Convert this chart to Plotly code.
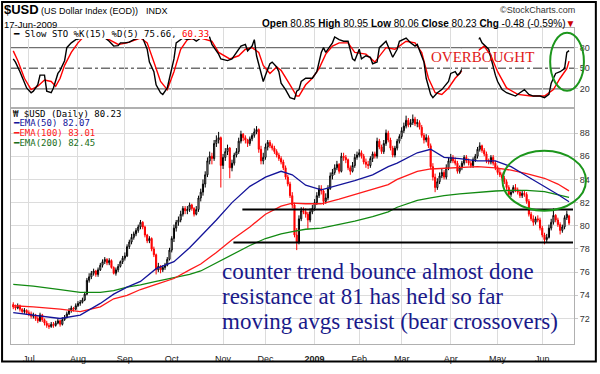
import plotly.graph_objects as go
import pandas as pd

# ---------------- data ----------------
holidays = ["2008-07-04", "2008-09-01", "2008-11-27", "2008-12-25", "2009-01-01",
            "2009-01-19", "2009-02-16", "2009-04-10", "2009-05-25"]
dates = [d for d in pd.bdate_range("2008-06-20", "2009-06-17") if d.strftime("%Y-%m-%d") not in holidays]

closes = [73.0, 72.9, 73.1, 72.8, 72.6, 72.7, 72.5,
          72.4, 72.2, 72.3, 72.0, 71.8, 72.3, 71.9, 71.6, 71.4, 71.3, 71.5, 71.4, 71.6, 71.8, 71.5, 71.9, 72.1, 72.4, 72.7, 72.9, 72.8, 73.1,
          73.3, 73.4, 73.6, 74.1, 75.3, 75.6, 75.9, 76.1, 75.8, 76.2, 76.6, 76.9, 77.1, 76.8, 77.0, 76.4, 75.9, 76.2, 76.5, 76.9, 77.2,
          77.4, 78.2, 78.6, 79.0, 79.3, 79.6, 79.9, 80.3, 79.9, 79.2, 78.7, 78.9, 78.0, 77.5, 76.2, 76.5, 76.2, 76.4, 76.6, 77.1, 77.9,
          78.9, 79.8, 80.3, 80.5, 81.0, 81.5, 81.3, 81.4, 81.8, 81.5, 81.0, 81.4, 82.4, 82.9, 83.6, 84.4, 85.6, 86.0, 85.8, 87.1, 87.4, 87.6, 85.2,
          85.9, 86.4, 86.7, 85.0, 85.4, 86.1, 86.4, 87.3, 87.9, 87.6, 87.4, 87.1, 87.5, 87.8, 88.1, 88.3, 86.6, 85.6, 85.9,
          86.8, 87.2, 86.9, 86.7, 86.4, 86.1, 85.8, 85.5, 85.0, 84.2, 83.6, 82.6, 81.8, 79.2, 78.6, 80.6, 81.3, 81.2, 81.0, 80.5, 81.2, 81.5,
          82.0, 82.6, 83.2, 83.0, 82.1, 82.4, 83.2, 84.3, 84.6, 85.0, 85.3, 84.7, 86.0, 85.9, 85.7, 85.0, 84.7, 85.2, 85.9, 86.1,
          86.3, 86.0, 85.5, 85.3, 85.2, 85.8, 86.2, 86.0, 87.3, 86.8, 86.4, 87.1, 88.0, 87.4, 86.7, 86.1, 86.7, 87.3, 87.7,
          88.2, 88.6, 89.1, 88.7, 88.9, 89.2, 88.8, 88.9, 88.5, 87.8, 87.4, 87.6, 86.9, 85.1, 84.2, 83.3, 83.8, 84.3, 84.6, 84.2, 85.0, 85.6,
          85.9, 85.6, 85.4, 84.7, 85.0, 85.4, 85.9, 85.6, 85.4, 85.2, 85.7, 86.0, 86.6, 86.9, 86.5, 86.2, 85.6, 85.5, 85.9, 85.4, 85.0,
          84.6, 84.4, 84.1, 83.8, 83.3, 82.7, 82.9, 83.3, 83.1, 82.9, 82.6, 82.8, 82.7, 82.1, 81.0, 80.6, 80.3, 80.6, 80.5, 79.8,
          79.2, 78.8, 79.0, 79.8, 80.3, 80.9, 80.5, 80.1, 79.6, 79.9, 80.7, 81.0, 80.23]

opens = [73.2, 73.0, 72.9, 73.1, 72.8, 72.6, 72.7,
         72.5, 72.4, 72.2, 72.3, 72.0, 71.8, 72.3, 71.9, 71.6, 71.4, 71.3, 71.5, 71.4, 71.6, 71.8, 71.5, 71.9, 72.1, 72.4, 72.7, 72.9, 72.8,
         73.1, 73.3, 73.4, 73.6, 74.1, 75.3, 75.6, 75.9, 76.1, 75.8, 76.2, 76.6, 76.9, 77.1, 76.8, 77.0, 76.4, 75.9, 76.2, 76.5, 76.9,
         77.2, 77.4, 78.2, 78.6, 79.0, 79.3, 79.6, 79.9, 80.3, 79.9, 79.2, 78.7, 78.9, 78.0, 77.5, 76.2, 76.5, 76.2, 76.4, 76.6, 77.1,
         77.9, 78.9, 79.8, 80.3, 80.5, 81.0, 81.5, 81.3, 81.4, 81.8, 81.5, 81.0, 81.4, 82.4, 82.9, 83.6, 84.4, 85.6, 86.0, 85.8, 87.1, 87.4, 87.6,
         85.2, 85.9, 86.4, 86.7, 85.0, 85.4, 86.1, 86.4, 87.3, 87.9, 87.6, 87.4, 87.1, 87.5, 87.8, 88.1, 88.3, 86.6, 85.6,
         85.9, 86.8, 87.2, 86.9, 86.7, 86.4, 86.1, 85.8, 85.5, 85.0, 84.2, 83.6, 82.6, 81.8, 79.2, 78.6, 80.6, 81.3, 81.2, 81.0, 80.5, 81.2,
         81.5, 82.0, 82.6, 83.2, 83.0, 82.1, 82.4, 83.2, 84.3, 84.6, 85.0, 85.3, 84.7, 86.0, 85.9, 85.7, 85.0, 84.7, 85.2, 85.9,
         86.1, 86.3, 86.0, 85.5, 85.3, 85.2, 85.8, 86.2, 86.0, 87.3, 86.8, 86.4, 87.1, 88.0, 87.4, 86.7, 86.1, 86.7, 87.3,
         87.7, 88.2, 88.6, 89.1, 88.7, 88.9, 89.2, 88.8, 88.9, 88.5, 87.8, 87.4, 87.6, 86.9, 85.1, 84.2, 83.3, 83.8, 84.3, 84.6, 84.2, 85.0,
         85.6, 85.9, 85.6, 85.4, 84.7, 85.0, 85.4, 85.9, 85.6, 85.4, 85.2, 85.7, 86.0, 86.6, 86.9, 86.5, 86.2, 85.6, 85.5, 85.9, 85.4,
         85.0, 84.6, 84.4, 84.1, 83.8, 83.3, 82.7, 82.9, 83.3, 83.1, 82.9, 82.6, 82.8, 82.7, 82.1, 81.0, 80.6, 80.3, 80.6, 80.5,
         79.8, 79.2, 78.8, 79.0, 79.8, 80.3, 80.9, 80.5, 80.1, 79.6, 79.9, 80.7, 80.85]

highs = [73.4, 73.2, 73.3, 73.2, 72.9, 72.9, 72.8,
         72.7, 72.6, 72.5, 72.4, 72.2, 72.5, 72.4, 72.0, 71.8, 71.6, 71.7, 71.7, 71.8, 72.0, 71.9, 72.1, 72.3, 72.6, 72.9, 73.1, 73.0, 73.3,
         73.5, 73.6, 73.8, 74.3, 75.5, 75.9, 76.1, 76.3, 76.2, 76.4, 76.8, 77.1, 77.3, 77.2, 77.2, 77.1, 76.5, 76.4, 76.7, 77.0, 77.4,
         77.7, 78.4, 78.8, 79.3, 79.5, 79.8, 80.1, 80.5, 80.4, 80.0, 79.3, 79.1, 79.0, 78.2, 77.6, 76.8, 76.6, 76.6, 76.8, 77.3, 78.1,
         79.1, 80.1, 80.5, 80.8, 81.3, 81.7, 81.7, 81.7, 82.0, 81.9, 81.6, 81.7, 82.6, 83.2, 84.0, 84.7, 85.9, 86.4, 86.3, 87.4, 87.8, 88.1, 87.7,
         86.2, 86.7, 87.0, 86.8, 85.7, 86.3, 86.7, 87.6, 88.2, 88.0, 87.8, 87.5, 87.7, 88.0, 88.4, 88.6, 88.4, 86.9, 86.3,
         87.1, 87.4, 87.4, 87.1, 86.9, 86.6, 86.3, 86.0, 85.7, 85.2, 84.4, 83.8, 82.9, 82.0, 79.8, 80.9, 81.6, 81.6, 81.5, 81.2, 81.5, 81.8,
         82.3, 82.9, 83.5, 83.5, 83.1, 82.8, 83.5, 84.6, 84.9, 85.3, 85.6, 85.4, 86.3, 86.3, 86.1, 85.8, 85.2, 85.5, 86.2, 86.4,
         86.6, 86.5, 86.2, 85.8, 85.6, 86.0, 86.4, 86.4, 87.6, 87.5, 87.0, 87.4, 88.3, 88.2, 87.6, 86.9, 86.9, 87.5, 87.9,
         88.5, 88.9, 89.5, 89.3, 89.2, 89.6, 89.4, 89.2, 89.1, 88.7, 88.0, 87.9, 87.8, 87.1, 85.4, 84.5, 84.1, 84.6, 84.9, 84.8, 85.3, 85.9,
         86.2, 86.1, 85.9, 85.6, 85.2, 85.6, 86.1, 86.1, 85.8, 85.6, 85.9, 86.2, 86.8, 87.2, 87.0, 86.7, 86.4, 85.8, 86.1, 86.1, 85.6,
         85.2, 84.9, 84.6, 84.3, 84.0, 83.5, 83.1, 83.5, 83.6, 83.3, 83.1, 83.0, 83.0, 82.9, 82.3, 81.2, 80.9, 80.8, 80.9, 80.7,
         80.0, 79.4, 79.3, 80.1, 80.6, 81.5, 81.0, 80.7, 80.3, 80.1, 80.9, 81.3, 80.95]

lows = [72.8, 72.7, 72.8, 72.6, 72.4, 72.4, 72.3,
        72.2, 72.0, 72.0, 71.8, 71.6, 71.7, 71.7, 71.4, 71.2, 71.1, 71.2, 71.2, 71.3, 71.5, 71.3, 71.4, 71.8, 72.0, 72.3, 72.5, 72.6, 72.7,
        73.0, 73.1, 73.3, 73.5, 74.0, 75.1, 75.4, 75.7, 75.6, 75.6, 76.1, 76.4, 76.7, 76.6, 76.6, 76.3, 75.8, 75.7, 76.0, 76.4, 76.7,
        77.0, 77.3, 78.0, 78.4, 78.8, 79.1, 79.4, 79.7, 79.7, 79.0, 78.5, 78.5, 77.8, 77.3, 75.8, 76.0, 75.9, 76.0, 76.2, 76.5, 77.0,
        77.7, 78.6, 79.5, 80.0, 80.3, 80.8, 81.0, 81.0, 81.2, 81.3, 80.8, 80.9, 81.2, 82.1, 82.6, 83.3, 84.2, 85.3, 85.3, 85.6, 86.8, 87.1, 83.3,
        84.9, 85.6, 86.1, 84.1, 84.7, 85.2, 85.9, 86.2, 87.1, 87.3, 87.1, 86.8, 86.9, 87.3, 87.6, 87.9, 86.3, 85.3, 85.3,
        85.7, 86.5, 86.7, 86.5, 86.2, 85.9, 85.6, 85.3, 84.8, 84.0, 83.4, 82.4, 81.5, 79.0, 77.9, 78.4, 80.4, 81.0, 80.7, 79.7, 80.3, 81.0,
        81.3, 81.8, 82.4, 82.7, 81.8, 81.9, 82.2, 83.1, 84.0, 84.4, 84.8, 84.5, 84.6, 85.6, 85.4, 84.8, 84.4, 84.6, 85.0, 85.7,
        85.9, 85.8, 85.3, 85.0, 84.9, 85.0, 85.5, 85.8, 85.8, 86.6, 86.2, 86.2, 86.9, 87.2, 86.5, 85.9, 85.9, 86.5, 87.1,
        87.5, 88.0, 88.4, 88.5, 88.5, 88.7, 88.6, 88.5, 88.3, 87.6, 87.1, 87.2, 86.7, 84.9, 83.9, 82.9, 83.1, 83.6, 84.1, 84.0, 84.0, 84.8,
        85.4, 85.4, 85.2, 84.5, 84.5, 84.8, 85.2, 85.4, 85.2, 85.0, 85.0, 85.5, 85.8, 86.4, 86.3, 86.0, 85.4, 85.3, 85.3, 85.2, 84.8,
        84.4, 84.2, 83.9, 83.6, 83.1, 82.5, 82.5, 82.8, 82.9, 82.7, 82.4, 82.4, 82.5, 81.9, 80.8, 80.4, 80.0, 80.1, 80.3, 79.6,
        79.0, 78.4, 78.6, 78.9, 79.6, 80.1, 80.3, 79.9, 79.25, 79.4, 79.7, 80.5, 80.06]

# moving averages, read at selected bars (bar index)
ema_idx = [0, 9, 21, 30, 39, 45, 51, 57, 64, 72, 79, 84, 91, 98, 106, 113, 120, 125, 131, 138, 146, 153,
           161, 168, 172, 181, 187, 193, 200, 208, 216, 223, 230, 238, 244, 249]
ema50 = [72.5, 72.3, 72.0, 72.3, 73.3, 74.1, 74.7, 75.2, 76.3, 76.9, 78.1, 79.1, 80.5, 82.0, 83.4, 84.2, 84.7, 84.4,
         83.5, 83.1, 83.5, 83.9, 84.4, 85.1, 85.4, 86.3, 86.6, 85.9, 85.8, 85.6, 85.6, 85.1, 84.3, 83.4, 82.7, 82.07]
ema100 = [73.1, 73.0, 72.8, 72.6, 73.0, 73.7, 74.0, 74.5, 74.95, 75.45, 76.2, 76.7, 77.7, 78.8, 79.9, 81.0, 81.7, 81.95,
          81.9, 81.9, 82.3, 82.7, 83.1, 83.55, 84.0, 84.7, 84.9, 84.95, 85.0, 85.1, 85.0, 84.8, 84.5, 84.1, 83.6, 83.01]
ema200 = [74.95, 74.8, 74.5, 74.25, 74.25, 74.4, 74.7, 74.9, 75.2, 75.5, 75.8, 76.1, 76.8, 77.5, 78.3, 78.9, 79.3, 79.5,
          79.7, 79.8, 80.1, 80.4, 80.8, 81.2, 81.6, 82.2, 82.4, 82.6, 82.75, 82.9, 83.0, 83.05, 83.05, 82.95, 82.7, 82.45]

# slow stochastic, read at selected bars
k_idx = [0, 1, 3, 6, 8, 9, 11, 12, 14, 15, 17, 18, 20, 21, 23, 24, 26, 28, 31, 34, 37, 40, 43, 45, 47, 48, 50, 52,
         54, 57, 58, 60, 61, 63, 64, 66, 67, 69, 70, 72, 73, 76, 78, 80, 82, 84, 87, 88, 89, 92, 93, 96, 98, 100,
         102, 104, 105, 107, 108, 109, 111, 112, 113, 115, 116, 118, 119, 120, 122, 124, 126, 127, 128, 129, 131,
         134, 136, 138, 139, 140, 143, 144, 146, 148, 150, 152, 153, 155, 156, 158, 160, 161, 163, 164, 167, 168,
         170, 172, 173, 176, 178, 180, 181, 184, 185, 187, 188, 190, 192, 195, 196, 198, 199, 200, 202, 204, 206,
         208, 209, 210, 213, 214, 216, 217, 219, 221, 225, 227, 229, 231, 233, 236, 238, 240, 241, 243, 245, 247,
         248, 249]
k_vals = [63.6, 59, 45, 21.4, 14.4, 16.7, 26, 40, 40, 16.7, 14.4, 21.4, 42.5, 47, 61, 80, 87, 91.7, 94, 97, 98, 97,
          89.3, 82.3, 83, 87, 87, 88, 91.7, 94.8, 94, 77.7, 59, 45, 26, 14.4, 12, 21.4, 35.5, 63.6, 87, 94, 91.7,
          94, 89.3, 94, 96.4, 95, 84.7, 70.6, 63.6, 61.2, 63.6, 73, 82.3, 84.7, 75.4, 82.3, 91.7, 68.2, 44.9, 30.8,
          40, 56.6, 59, 52, 45, 28.4, 19, 7.3, 5, 16.7, 19, 30.8, 35.5, 35.5, 45, 73, 80, 73, 87, 95.5, 91.7, 89.3,
          89.3, 63.6, 61.2, 77.7, 63.6, 68.2, 66, 56.6, 59, 80, 89.3, 82.3, 66, 77.7, 89.3, 94, 87, 82.3, 84.7, 59,
          35.5, 12, 7.3, 14.4, 19, 30.8, 42.5, 45, 40, 42.5, 55, 70, 82, 92, 94, 87, 77.7, 63.6, 40, 30.8, 19, 14.4,
          9.6, 14.4, 19, 12, 9.6, 9.6, 7.3, 12, 28.4, 42.5, 45, 49.5, 73, 75.66]
d_idx = [0, 2, 5, 8, 11, 14, 17, 19, 21, 23, 26, 29, 31, 35, 39, 43, 47, 51, 57, 60, 63, 66, 69, 72, 75, 78, 84,
         89, 92, 97, 101, 104, 107, 110, 112, 115, 118, 120, 124, 127, 128, 131, 134, 137, 140, 143, 146, 150,
         153, 158, 162, 167, 171, 176, 180, 183, 186, 189, 192, 195, 198, 200, 203, 206, 211, 214, 217, 221, 226,
         232, 238, 242, 245, 248, 249]
d_vals = [75.3, 61.2, 35.5, 19, 23.8, 33, 30.8, 23.8, 35.5, 54.2, 73, 87, 94, 96, 96, 91.7, 84.7, 87, 94, 87, 59,
          30.8, 19, 45, 77.7, 91.7, 94, 89.3, 73, 63.6, 68.2, 77.7, 80, 73, 54.2, 42.5, 52, 47, 26, 9.6, 9.6, 26,
          35.5, 49.5, 70.6, 82.3, 87, 87, 73, 70.6, 59, 80, 77.7, 89.3, 87, 73, 35.5, 14.4, 12, 21.4, 35.5, 42.5,
          55, 70, 82.3, 68.2, 45, 21.4, 12, 9.6, 9.6, 19, 35.5, 49.5, 60.33]

month_lbl = ["Jul", "Aug", "Sep", "Oct", "Nov", "Dec", "<b>2009</b>", "Feb", "Mar", "Apr", "May", "Jun"]
price_ticks = [72, 74, 76, 78, 80, 82, 84, 86, 88]
sto_ticks = [20, 50, 80]
resistance = 81.4
support = 78.55

# ---------------- layout helpers ----------------
x = list(range(len(dates)))
month_idx = [i for i in range(len(dates)) if i > 0 and dates[i].month != dates[i - 1].month]

L, R, T, B = 10, 577, 28, 355


def px(v):
    return (v - L) / (R - L)


def py(v):
    return (B - v) / (B - T)


def xi(pix):  # pixel -> bar index
    return 7 + (pix - 28) / 2.248


def sv(pix):  # pixel -> stochastic value
    return 20 + (91 - pix) / 0.711


SANS = "Liberation Sans"
MONO = "DejaVu Sans Mono"
SERIF = "Liberation Serif"

fig = go.Figure()

fig.add_trace(go.Candlestick(
    x=x, open=opens, high=highs, low=lows, close=closes, xaxis="x", yaxis="y",
    increasing=dict(line=dict(color="black", width=1), fillcolor="white"),
    decreasing=dict(line=dict(color="#ff0000", width=1), fillcolor="#ff0000"),
    whiskerwidth=0, hoverinfo="skip"))
fig.add_trace(go.Scatter(x=ema_idx, y=ema200, mode="lines", line=dict(color="#128a12", width=1.3), xaxis="x", yaxis="y"))
fig.add_trace(go.Scatter(x=ema_idx, y=ema100, mode="lines", line=dict(color="#ff1a1a", width=1.3), xaxis="x", yaxis="y"))
fig.add_trace(go.Scatter(x=ema_idx, y=ema50, mode="lines", line=dict(color="#14149a", width=1.3), xaxis="x", yaxis="y"))

fig.add_trace(go.Scatter(x=d_idx, y=d_vals, mode="lines", line=dict(color="#ff0000", width=1.4), xaxis="x2", yaxis="y2"))
fig.add_trace(go.Scatter(x=k_idx, y=k_vals, mode="lines", line=dict(color="black", width=1.4), xaxis="x2", yaxis="y2"))

axis_common = dict(showline=True, mirror=True, linecolor="#b0b0b0", linewidth=1, zeroline=False)
fig.update_layout(
    width=600, height=374, margin=dict(l=L, r=600 - R, t=T, b=374 - B),
    paper_bgcolor="white", plot_bgcolor="white", showlegend=False,
    xaxis=dict(domain=[0, 1], anchor="y", range=[xi(L), xi(R)], tickvals=month_idx, ticktext=month_lbl,
               showgrid=True, gridcolor="#dcdcdc", ticks="outside", ticklen=6, tickcolor="rgba(0,0,0,0)",
               rangeslider=dict(visible=False),
               tickfont=dict(family=SANS, size=9, color="#222"), **axis_common),
    yaxis=dict(domain=[0, py(112)], anchor="x", range=[69.8, 90.06], side="right", tickvals=price_ticks,
               showgrid=True, gridcolor="#dcdcdc", ticks="outside", ticklen=3, tickcolor="#c8c8c8",
               tickfont=dict(family=SANS, size=9, color="#333"), **axis_common),
    xaxis2=dict(domain=[0, 1], anchor="y2", matches="x", range=[xi(L), xi(R)], tickvals=month_idx,
                showticklabels=False, showgrid=True, gridcolor="#dcdcdc", ticks="", **axis_common),
    yaxis2=dict(domain=[py(110), 1], anchor="x2", range=[-6.7, 108.6], side="right", tickvals=sto_ticks,
                showgrid=False, ticks="outside", ticklen=3, tickcolor="#c8c8c8",
                tickfont=dict(family=SANS, size=9, color="#333"), **axis_common),
)

shapes = []
# stochastic reference lines
for lvl, dash in [(80, "solid"), (20, "solid"), (50, "dashdot")]:
    shapes.append(dict(type="line", xref="x2 domain", yref="y2", x0=0, x1=1, y0=lvl, y1=lvl,
                       line=dict(color="#707070", width=1.3, dash=dash), layer="below"))
# erased patch behind the annotation area
shapes.append(dict(type="rect", xref="x2", yref="y2", x0=xi(464), x1=xi(481), y0=sv(73), y1=sv(33),
                   fillcolor="white", line=dict(width=0), layer="above"))
for lvl, dash in [(80, "solid"), (50, "dashdot")]:
    shapes.append(dict(type="line", xref="x2", yref="y2", x0=xi(463), x1=xi(482), y0=lvl, y1=lvl,
                       line=dict(color="#707070", width=1.3, dash=dash), layer="above"))
# support / resistance
shapes.append(dict(type="line", xref="x", yref="y", x0=xi(243), x1=xi(576), y0=resistance, y1=resistance,
                   line=dict(color="black", width=2)))
shapes.append(dict(type="line", xref="x", yref="y", x0=xi(234), x1=xi(576), y0=support, y1=support,
                   line=dict(color="black", width=2)))
# ellipses
shapes.append(dict(type="circle", xref="paper", yref="paper", x0=px(505), x1=px(589), y0=py(217), y1=py(155),
                   line=dict(color="#1c961c", width=2)))
shapes.append(dict(type="circle", xref="paper", yref="paper", x0=px(553), x1=px(587), y0=py(93), y1=py(33),
                   line=dict(color="#1c961c", width=2)))
# outer frame
shapes.append(dict(type="rect", xref="paper", yref="paper", x0=px(1), x1=px(599), y0=py(373), y1=py(1),
                   line=dict(color="black", width=2)))
fig.update_layout(shapes=shapes)


def ann(text, xp, yp, size, family=SANS, color="black", xanchor="left", bg=None):
    d = dict(text=text, x=px(xp), y=py(yp), xref="paper", yref="paper", xanchor=xanchor, yanchor="middle",
             showarrow=False, font=dict(family=family, size=size, color=color), borderpad=0, borderwidth=0)
    if bg:
        d["bgcolor"] = bg
    fig.add_annotation(**d)


ann("<b>$USD</b>", 3, 9.2, 13)
ann("(US Dollar Index (EOD))", 40, 10, 9)
ann("INDX", 146, 10, 9)
ann("©StockCharts.com", 578, 9.5, 9, color="#333", xanchor="right")
ann("17-Jun-2009", 3, 24, 9.5)
ann("<b>Open</b> 80.85 <b>High</b> 80.95 <b>Low</b> 80.06 <b>Close</b> 80.23 <b>Chg</b> -0.48 (-0.59%)"
    "<span style='color:#cc0000'>▼</span>", 578, 23.5, 10, xanchor="right")

ann("━ Slow STO %K(15) %D(5) 75.66, <span style='color:#ff0000'>60.33</span>", 12, 34, 9, family=MONO,
    bg="white")
ann("₩ $USD (Daily) 80.23", 12, 117, 9, family=MONO)
ann("━EMA(50) 82.07", 12, 126.7, 9, family=MONO, color="#14149a")
ann("━EMA(100) 83.01", 12, 136.5, 9, family=MONO, color="#ff1a1a")
ann("━EMA(200) 82.45", 12, 146.5, 9, family=MONO, color="#1a6e1a")

ann("OVERBOUGHT", 485, 57.5, 15, family=SERIF, color="#e01818", xanchor="center")

ann("counter trend bounce almost done", 223, 280, 23, family=SERIF, color="#1a1a8a")
ann("resistance at 81 has held so far", 223, 306, 23, family=SERIF, color="#1a1a8a")
ann("moving avgs resist (bear crossovers)", 223, 332, 23, family=SERIF, color="#1a1a8a")

fig.write_html("out.html", config={"displayModeBar": False},
               post_script="document.body.style.margin='0';document.body.style.overflow='hidden';")
